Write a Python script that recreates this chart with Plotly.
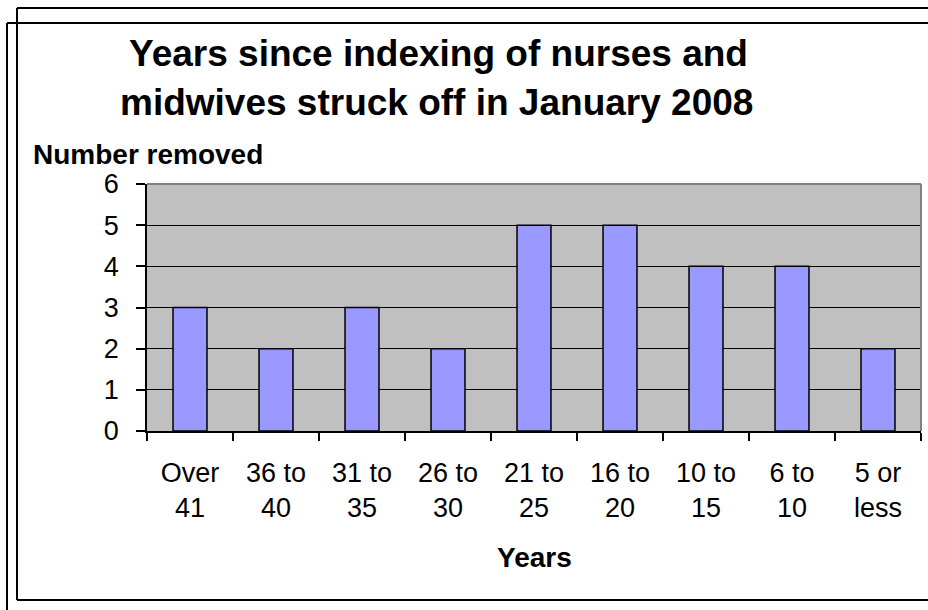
import plotly.graph_objects as go

categories = ["Over<br>41", "36 to<br>40", "31 to<br>35", "26 to<br>30", "21 to<br>25",
              "16 to<br>20", "10 to<br>15", "6 to<br>10", "5 or<br>less"]
values = [3, 2, 3, 2, 5, 5, 4, 4, 2]
y_ticks = [0, 1, 2, 3, 4, 5, 6]

FONT = "Liberation Sans, Arial, sans-serif"
Wfig, Hfig = 928, 610
L, T, R, B = 147, 184, 7, 179
W = Wfig - L - R
H = Hfig - T - B


def xp(px):
    return (px - L) / W


def yp(py):
    return (T + H - py) / H


fig = go.Figure()
fig.add_trace(go.Bar(
    x=categories, y=values,
    marker=dict(color="#9999FF", line=dict(color="black", width=1.5)),
    hoverinfo="skip",
))

line_style = dict(color="black", width=2)
shapes = [
    # frame A
    dict(type="line", xref="paper", yref="paper", x0=xp(17), x1=xp(1000), y0=yp(8), y1=yp(8), line=line_style),
    dict(type="line", xref="paper", yref="paper", x0=xp(17), x1=xp(17), y0=yp(8), y1=yp(600), line=line_style),
    dict(type="line", xref="paper", yref="paper", x0=xp(17), x1=xp(1000), y0=yp(600), y1=yp(600), line=line_style),
    # frame B
    dict(type="line", xref="paper", yref="paper", x0=xp(7), x1=xp(1000), y0=yp(23), y1=yp(23), line=line_style),
    dict(type="line", xref="paper", yref="paper", x0=xp(7), x1=xp(7), y0=yp(23), y1=yp(700), line=line_style),
    # plot area border (top/right grey)
    dict(type="line", xref="paper", yref="paper", x0=0, x1=1, y0=1, y1=1, line=dict(color="#808080", width=2)),
    dict(type="line", xref="paper", yref="paper", x0=1, x1=1, y0=0, y1=1, line=dict(color="#808080", width=2)),
]

annotations = [
    dict(text="<b>Years since indexing of nurses and</b>", x=xp(438), y=yp(54), xref="paper", yref="paper",
         xanchor="center", yanchor="middle", showarrow=False, font=dict(family=FONT, size=37, color="black")),
    dict(text="<b>midwives struck off in January 2008</b>", x=xp(436), y=yp(102), xref="paper", yref="paper",
         xanchor="center", yanchor="middle", showarrow=False, font=dict(family=FONT, size=37, color="black")),
    dict(text="<b>Number removed</b>", x=xp(31), y=yp(155), xref="paper", yref="paper",
         xanchor="left", yanchor="middle", showarrow=False, font=dict(family=FONT, size=28, color="black")),
    dict(text="<b>Years</b>", x=0.5, y=yp(557), xref="paper", yref="paper",
         xanchor="center", yanchor="middle", showarrow=False, font=dict(family=FONT, size=28, color="black")),
]

fig.update_layout(
    width=Wfig, height=Hfig,
    margin=dict(l=L, r=R, t=T, b=B, pad=0),
    paper_bgcolor="white",
    plot_bgcolor="#C0C0C0",
    bargap=0.605,
    showlegend=False,
    shapes=shapes,
    annotations=annotations,
    font=dict(family=FONT, size=27, color="black"),
)
fig.update_xaxes(
    type="category", tickson="boundaries", ticks="outside", ticklen=8, tickwidth=1.5, tickcolor="black",
    showline=True, linecolor="black", linewidth=1.5, showgrid=False,
    ticklabelstandoff=17, tickfont=dict(family=FONT, size=27, color="black"),
)
fig.update_yaxes(
    range=[0, 6], tickvals=y_ticks, ticks="outside", ticklen=9, tickwidth=1.5, tickcolor="black",
    showline=True, linecolor="black", linewidth=1.5, showgrid=True, gridcolor="black", gridwidth=1,
    zeroline=False, ticklabelstandoff=12, tickfont=dict(family=FONT, size=27, color="black"),
)

fig.write_html(
    "out.html",
    config={"displayModeBar": False},
    post_script="document.body.style.margin='0';document.body.style.overflow='hidden';",
)
